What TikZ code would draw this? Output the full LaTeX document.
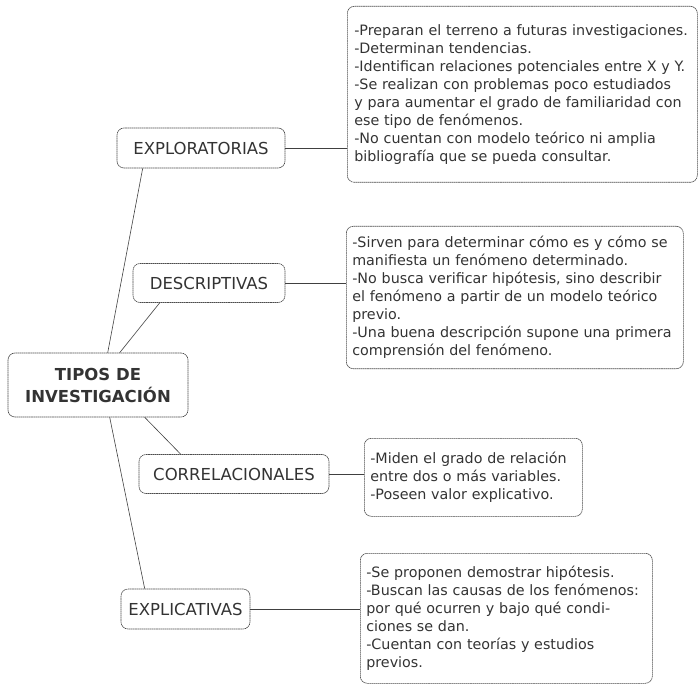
\documentclass[tikz,border=0pt]{standalone}
\usepackage{fontspec}
\setmainfont{DejaVu Sans}
\usetikzlibrary{calc}
\tikzset{
  bx/.style={draw=black!70, line width=0.6pt, dash pattern=on 1.6pt off 0.5pt, rounded corners=7pt, inner sep=0pt},
  lbl/.style={bx, font=\fontsize{16.5}{19}\selectfont, text=black!80},
  txt/.style={bx, text=black!80, align=left, anchor=north west, font=\fontsize{14.3}{18}\selectfont},
  rootbx/.style={bx, font=\fontsize{16.5}{22}\selectfont\bfseries, text=black!80, align=center},
  link/.style={draw=black!75, line width=0.6pt},
  hlink/.style={draw=black!75, line width=0.6pt, dash pattern=on 1.6pt off 0.4pt}
}
\begin{document}
\begin{tikzpicture}[x=1pt,y=-1pt]
\useasboundingbox (0,0) rectangle (698,684);
% root
\node[rootbx, minimum width=180pt, minimum height=64pt] (root) at (98,385) {TIPOS DE\\INVESTIGACIÓN};
% labels
\node[lbl, minimum width=168pt, minimum height=40pt] (explo) at (201,148) {EXPLORATORIAS};
\node[lbl, minimum width=152pt, minimum height=39pt] (desc) at (209,283) {DESCRIPTIVAS};
\node[lbl, minimum width=190pt, minimum height=39pt] (corr) at (234,474) {CORRELACIONALES};
\node[lbl, minimum width=129pt, minimum height=40pt] (expli) at (185.5,609) {EXPLICATIVAS};
% text boxes
\node[txt, minimum width=350pt, minimum height=176pt, text width=336pt, inner xsep=7pt, inner ysep=16pt] (b1) at (347,6)
{-Preparan el terreno a futuras investigaciones.\\
-Determinan tendencias.\\
-Identifican relaciones potenciales entre X y Y.\\
-Se realizan con problemas poco estudiados\\
y para aumentar el grado de familiaridad con\\
ese tipo de fenómenos.\\
-No cuentan con modelo teórico ni amplia\\
bibliografía que se pueda consultar.};
\node[txt, minimum width=337pt, minimum height=142pt, text width=325pt, inner xsep=6pt, inner ysep=10pt] (b2) at (346,226)
{-Sirven para determinar cómo es y cómo se\\
manifiesta un fenómeno determinado.\\
-No busca verificar hipótesis, sino describir\\
el fenómeno a partir de un modelo teórico\\
previo.\\
-Una buena descripción supone una primera\\
comprensión del fenómeno.};
\node[txt, minimum width=218pt, minimum height=78pt, text width=206pt, inner xsep=6pt, inner ysep=12pt] (b3) at (364,438)
{-Miden el grado de relación\\
entre dos o más variables.\\
-Poseen valor explicativo.};
\node[txt, minimum width=292pt, minimum height=130pt, text width=280pt, inner xsep=6pt, inner ysep=12pt] (b4) at (360,553)
{-Se proponen demostrar hipótesis.\\
-Buscan las causas de los fenómenos:\\
por qué ocurren y bajo qué condi-\\
ciones se dan.\\
-Cuentan con teorías y estudios\\
previos.};
% connectors
\draw[link] ($(root.north west)+(100,0)$) -- ($(explo.south west)+(26,0)$);
\draw[link] ($(root.north west)+(112,0)$) -- ($(desc.south west)+(27,0)$);
\draw[link] ($(root.south west)+(137,0)$) -- ($(corr.north west)+(42,0)$);
\draw[link] ($(root.south west)+(102,0)$) -- ($(expli.north west)+(24,0)$);
\draw[hlink] (explo.east) -- (explo.east -| b1.west);
\draw[hlink] (desc.east) -- (desc.east -| b2.west);
\draw[hlink] (corr.east) -- (corr.east -| b3.west);
\draw[hlink] (expli.east) -- (expli.east -| b4.west);
\end{tikzpicture}
\end{document}
